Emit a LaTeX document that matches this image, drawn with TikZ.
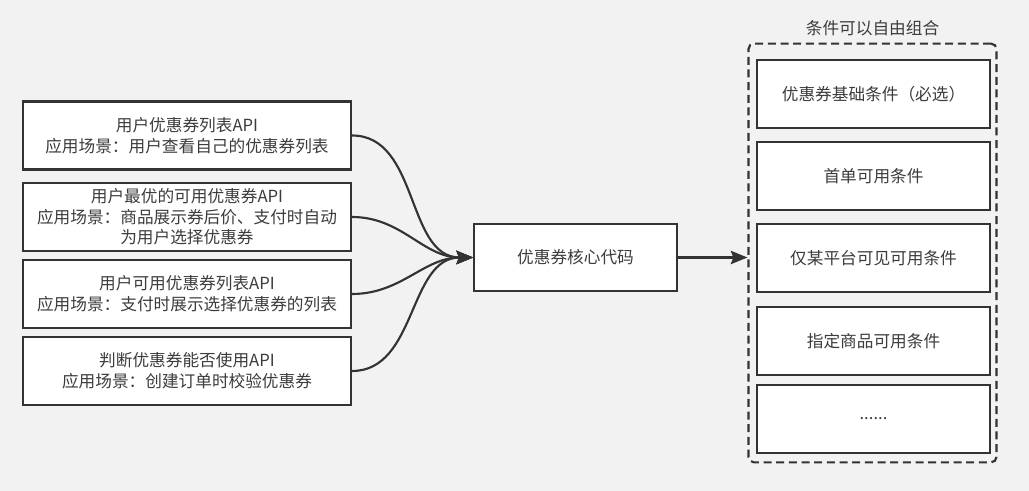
\documentclass[tikz,border=0pt]{standalone}
\usepackage{fontspec}
\setmainfont{Noto Sans CJK SC}
\usetikzlibrary{positioning,arrows.meta}
\definecolor{cpline}{HTML}{333333}
\definecolor{cptext}{HTML}{3C3C3C}
\definecolor{cpback}{HTML}{F2F2F2}
\tikzstyle{boxstyle}=[shape=rectangle,draw=cpline,line width=1.6pt,fill=white,text=cptext,font=\fontsize{12.5}{15.5}\selectfont,align=center,inner sep=0pt]
\tikzstyle{apistyle}=[boxstyle,minimum width=246pt,minimum height=51pt]
\tikzstyle{corestyle}=[boxstyle,minimum width=152pt,minimum height=50pt]
\tikzstyle{condstyle}=[boxstyle,minimum width=175pt,minimum height=51pt]
\tikzstyle{groupstyle}=[shape=rectangle,draw=cpline,line width=1.6pt,dash pattern=on 6pt off 3.5pt,rounded corners=4pt,minimum width=186pt,minimum height=314pt]
\tikzstyle{linkstyle}=[draw=cpline,line width=1.6pt,-{Stealth[length=12.5pt,width=10pt,inset=2pt]}]
\newcommand{\cpapi}[4]{ \draw (#2,#3) node [style=apistyle] (#1) {#4}; }
\newcommand{\cpcond}[3]{ \draw (873.5,#2) node [style=condstyle] (#1) {#3}; }
\newcommand{\cpcurve}[2]{ \draw [style=linkstyle] (#1.east) to [out=0,in=180] (#2.west); }

\begin{document}
\begin{tikzpicture}[x=0.75pt,y=-0.75pt]
\fill [cpback] (0,0) rectangle (1029,491);
\useasboundingbox (0,0) rectangle (1029,491);

% use cases on the left
\cpapi{apilist}{187}{135.5}{用户优惠券列表API\\应用场景：用户查看自己的优惠券列表} %
\cpapi{apibest}{187}{217}{用户最优的可用优惠券API\\应用场景：商品展示券后价、支付时自动\\为用户选择优惠券} %
\cpapi{apiusable}{187}{294}{用户可用优惠券列表API\\应用场景：支付时展示选择优惠券的列表} %
\cpapi{apicheck}{187}{371}{判断优惠券能否使用API\\应用场景：创建订单时校验优惠券} %

% core
\draw (575.5,257.5) node [style=corestyle] (core) {优惠券核心代码}; %

% conditions on the right
\draw (872.5,253) node [style=groupstyle] (group) {}; %
\draw (group.north) node [anchor=south,text=cptext,font=\fontsize{12.5}{15.5}\selectfont,inner sep=3pt,yshift=2pt] (grouptitle) {条件可以自由组合}; %
\cpcond{condbase}{94}{优惠券基础条件（必选）} %
\cpcond{condfirst}{176}{首单可用条件} %
\cpcond{condplat}{258}{仅某平台可见可用条件} %
\cpcond{condgoods}{341}{指定商品可用条件} %
\cpcond{condmore}{419}{......} %

\cpcurve{apilist}{core} %
\cpcurve{apibest}{core} %
\cpcurve{apiusable}{core} %
\cpcurve{apicheck}{core} %
\draw [style=linkstyle] (core.east) -- (core.east -| group.west); %
\end{tikzpicture}
\end{document}
